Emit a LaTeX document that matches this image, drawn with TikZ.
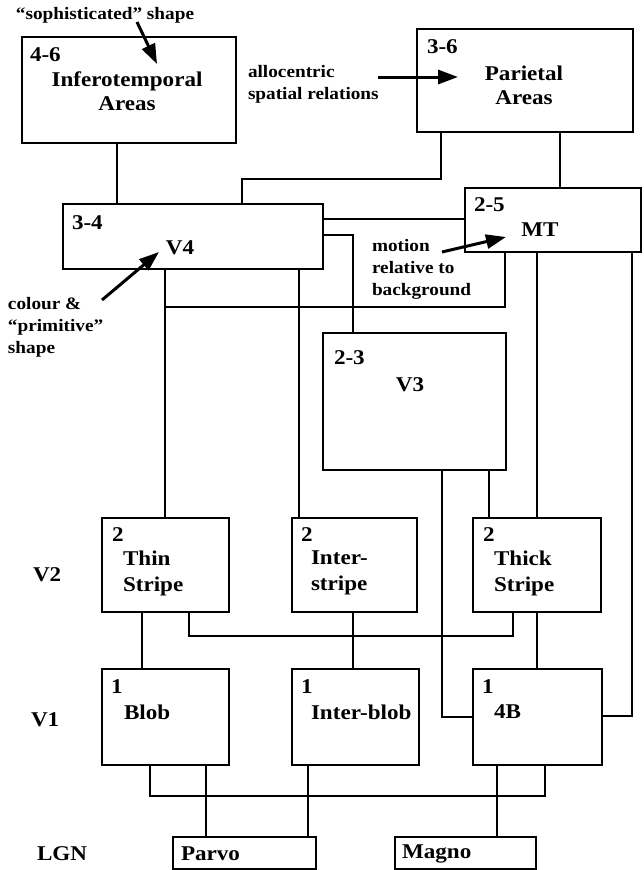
\documentclass[tikz,border=0pt]{standalone}
\usepackage{fontspec}
\setmainfont[FakeStretch=1.1]{Liberation Serif}
\usetikzlibrary{arrows.meta}
\begin{document}
\begin{tikzpicture}[x=1pt, y=-1pt, line width=2pt,
    box/.style={draw, line width=1.5pt, rectangle, anchor=north west, outer sep=0pt, inner sep=0pt},
    lbl/.style={font=\bfseries\fontsize{21}{24}\selectfont, inner sep=0pt, align=center},
    num/.style={font=\bfseries\fontsize{21}{26}\selectfont, inner sep=0pt, anchor=west},
    note/.style={font=\bfseries\fontsize{17.5}{22}\selectfont, inner sep=0pt, anchor=west, align=left},
    pointer/.style={line width=3pt, -{Triangle[length=20pt,width=14pt]}}]
  \useasboundingbox (0,0) rectangle (644,870);
  % areas at the top
  \node[box, minimum width=214, minimum height=106] (it) at (22,37) {};
  \node[box, minimum width=216, minimum height=103] (par) at (417,29) {};
  \node[num] (itNum) at (29,55) {4-6};
  \node[lbl] (itTxt) at (127,91) {Inferotemporal\\Areas};
  \node[num] (parNum) at (426,47) {3-6};
  \node[lbl] (parTxt) at (524,85) {Parietal\\Areas};
  % V4, MT, V3
  \node[box, minimum width=260, minimum height=65] (v4) at (63,204) {};
  \node[box, minimum width=176, minimum height=64] (mt) at (465,188) {};
  \node[box, minimum width=183, minimum height=137] (v3) at (323,333) {};
  \node[num] (v4Num) at (71,223) {3-4};
  \node[lbl] (v4Txt) at (180,248) {V4};
  \node[num] (mtNum) at (473,205) {2-5};
  \node[lbl] (mtTxt) at (540,230) {MT};
  \node[num] (v3Num) at (333,358) {2-3};
  \node[lbl] (v3Txt) at (410,385) {V3};
  % V2 stripes
  \node[box, minimum width=127, minimum height=94] (thin) at (102,518) {};
  \node[box, minimum width=125, minimum height=94] (inter) at (292,518) {};
  \node[box, minimum width=128, minimum height=94] (thick) at (473,518) {};
  \node[num] (thinNum) at (111,535) {2};
  \node[num] (interNum) at (300,535) {2};
  \node[num] (thickNum) at (482,535) {2};
  \node[num, align=left] (thinTxt) at (122,573) {Thin\\Stripe};
  \node[num, align=left] (interTxt) at (310,573) {Inter-\\stripe};
  \node[num, align=left] (thickTxt) at (493,573) {Thick\\Stripe};
  % V1
  \node[box, minimum width=127, minimum height=96] (blob) at (102,669) {};
  \node[box, minimum width=127, minimum height=96] (iblob) at (292,669) {};
  \node[box, minimum width=129, minimum height=96] (fourb) at (473,669) {};
  \node[num] (blobNum) at (110,687) {1};
  \node[num] (iblobNum) at (300,687) {1};
  \node[num] (fourbNum) at (481,687) {1};
  \node[num] (blobTxt) at (123,712) {Blob};
  \node[num] (iblobTxt) at (310,712) {Inter-blob};
  \node[num] (fourbTxt) at (493,712) {4B};
  % LGN
  \node[box, minimum width=143, minimum height=32] (parvo) at (173,837) {};
  \node[box, minimum width=141, minimum height=32] (magno) at (395,837) {};
  \node[num] (parvoTxt) at (180,854) {Parvo};
  \node[num] (magnoTxt) at (401,854) {Magno};
  % row names
  \node[num] (rowV2) at (32,575) {V2};
  \node[num] (rowV1) at (30,720) {V1};
  \node[num] (rowLGN) at (36,854) {LGN};
  % notes
  \node[note] (sophTxt) at (15,15) {``sophisticated'' shape};
  \node[note] (alloTxt) at (247,84) {allocentric\\spatial relations};
  \node[note] (colourTxt) at (7,327) {colour \&\\``primitive''\\shape};
  \node[note] (motionTxt) at (371,269) {motion\\relative to\\background};
  \coordinate (sophTip) at (157,64);
  \coordinate (alloTip) at (458,77);
  \coordinate (colourTip) at (159,252);
  \coordinate (motionTip) at (506,237);
  \draw[pointer] (137,22) -- (sophTip);
  \draw[pointer] (378,77) -- (alloTip);
  \draw[pointer] (102,300) -- (colourTip);
  \draw[pointer] (442,252) -- (motionTip);
  % connections
  \draw (117,0 |- it.south) -- (117,0 |- v4.north);
  \draw (441,0 |- par.south) -- (441,179) -- (242,179) -- (242,0 |- v4.north);
  \draw (560,0 |- par.south) -- (560,0 |- mt.north);
  \draw (v4.east |- 0,219) -- (mt.west |- 0,219);
  \draw (v4.east |- 0,235) -- (353,235) -- (353,0 |- v3.north);
  \draw (505,0 |- mt.south) -- (505,307) -- (165,307);
  \draw (165,0 |- v4.south) -- (165,0 |- thin.north);
  \draw (299,0 |- v4.south) -- (299,0 |- inter.north);
  \draw (489,0 |- v3.south) -- (489,0 |- thick.north);
  \draw (537,0 |- mt.south) -- (537,0 |- thick.north);
  \draw (442,0 |- v3.south) -- (442,717) -- (fourb.west |- 0,717);
  \draw (632,0 |- mt.south) -- (632,716) -- (fourb.east |- 0,716);
  \draw (142,0 |- thin.south) -- (142,0 |- blob.north);
  \draw (189,0 |- thin.south) -- (189,636) -- (513,636) -- (513,0 |- thick.south);
  \draw (353,0 |- inter.south) -- (353,0 |- iblob.north);
  \draw (537,0 |- thick.south) -- (537,0 |- fourb.north);
  \draw (150,0 |- blob.south) -- (150,796) -- (545,796) -- (545,0 |- fourb.south);
  \draw (206,0 |- blob.south) -- (206,0 |- parvo.north);
  \draw (308,0 |- iblob.south) -- (308,0 |- parvo.north);
  \draw (497,0 |- fourb.south) -- (497,0 |- magno.north);
\end{tikzpicture}
\end{document}
